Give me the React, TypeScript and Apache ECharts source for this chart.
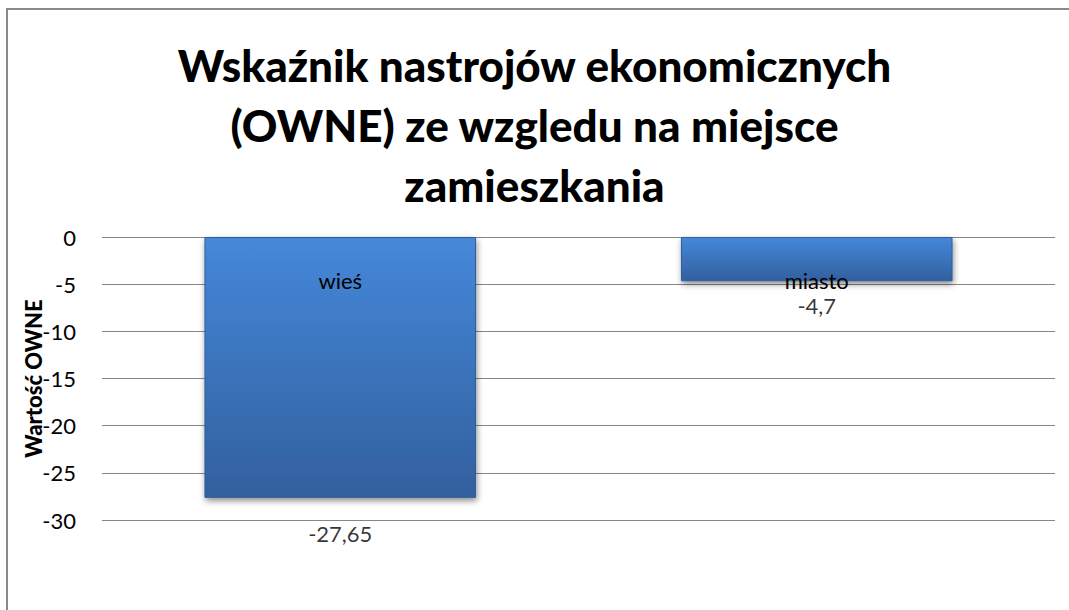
import React, { useEffect, useRef } from "react";
import * as echarts from "echarts";

const titleText = "Wskaźnik nastrojów ekonomicznych\n(OWNE) ze wzgledu na miejsce\nzamieszkania";
const axisTitle = "Wartość OWNE";
const categories = ["wieś", "miasto"];
const values = [-27.65, -4.7];
const yMin = -30;
const yMax = 0;
const yStep = 5;

const fmt = (v: number) => String(v).replace(".", ",");

export default function App() {
  const ref = useRef<HTMLDivElement>(null);
  useEffect(() => {
    if (!ref.current) return;
    const chart = echarts.init(ref.current, undefined, { renderer: "svg" });
    const font = "Lato, 'Open Sans', sans-serif";
    const valueLabelGap = [26, 14];
    chart.setOption({
      animation: false,
      backgroundColor: "#ffffff",
      textStyle: { fontFamily: font },
      title: {
        text: titleText,
        left: "center",
        top: 30,
        textStyle: {
          fontFamily: font,
          fontWeight: 900,
          fontSize: 44,
          lineHeight: 60,
          color: "#000",
        },
      },
      graphic: [
        {
          type: "rect",
          shape: { x: 7, y: 9, width: 1100, height: 700 },
          style: { fill: "none", stroke: "#8a8a8a", lineWidth: 2 },
          silent: true,
        },
      ],
      grid: { left: 102, right: 14, top: 237, bottom: 90 },
      xAxis: {
        type: "category",
        data: categories,
        axisLine: { show: false },
        axisTick: { show: false },
        axisLabel: { show: false },
        splitLine: { show: false },
      },
      yAxis: {
        type: "value",
        min: yMin,
        max: yMax,
        interval: yStep,
        name: axisTitle,
        nameLocation: "middle",
        nameGap: 58,
        nameMoveOverlap: false,
        nameRotate: 90,
        nameTextStyle: { fontFamily: font, fontWeight: 900, fontSize: 22, color: "#000" },
        axisLine: { show: false },
        axisTick: { show: false },
        axisLabel: { fontFamily: font, fontSize: 22, color: "#000", margin: 26 },
        splitLine: { lineStyle: { color: "#868686", width: 1 } },
      },
      series: [
        {
          type: "bar",
          data: values,
          barWidth: "57%",
          itemStyle: {
            color: new echarts.graphic.LinearGradient(0, 0, 0, 1, [
              { offset: 0, color: "#4588da" },
              { offset: 1, color: "#325f9e" },
            ]),
            borderColor: "#2f5d98",
            borderWidth: 1,
            shadowColor: "rgba(0,0,0,0.45)",
            shadowBlur: 6,
            shadowOffsetX: 1,
            shadowOffsetY: 3,
          },
          label: {
            show: true,
            position: "insideTop",
            distance: 33,
            formatter: "{b}",
            fontFamily: font,
            fontSize: 22,
            lineHeight: 20,
            color: "#000",
          },
        },
        {
          type: "scatter",
          data: values.map((v, i) => ({
            value: v,
            label: { distance: valueLabelGap[i] },
          })),
          symbolSize: 0,
          silent: true,
          z: 5,
          label: {
            show: true,
            position: "bottom",
            formatter: (p: any) => fmt(p.value),
            fontFamily: font,
            fontSize: 22,
            lineHeight: 20,
            color: "#000",
          },
        },
      ],
    });
    return () => chart.dispose();
  }, []);
  return (
    <div
      ref={ref}
      style={{ position: "absolute", left: 0, top: 0, width: 1069, height: 610 }}
    />
  );
}
